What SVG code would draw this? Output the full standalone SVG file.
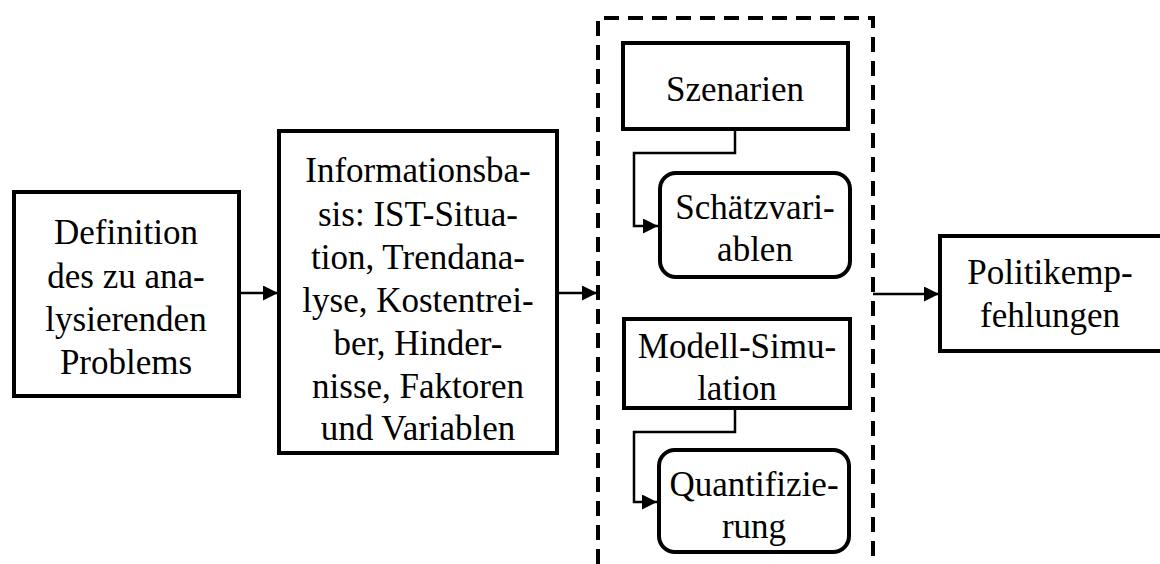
<svg xmlns="http://www.w3.org/2000/svg" width="1160" height="564" viewBox="0 0 1160 564">
<style>
.box{fill:#fff;stroke:#000;stroke-width:4}
.t{font-family:"Liberation Serif","DejaVu Serif",serif;font-size:35px;fill:#000;text-anchor:middle}
.c{fill:none;stroke:#000;stroke-width:2.5}
.d{fill:none;stroke:#000;stroke-width:4;stroke-dasharray:15 9}
</style>
<defs>
<marker id="ah2" markerWidth="15" markerHeight="15" refX="15" refY="7.5" orient="auto" markerUnits="userSpaceOnUse" viewBox="0 0 15 15">
<path d="M0,0 L15,7.5 L0,15 z" fill="#000"/>
</marker>
</defs>
<g id="group">
<path class="d" d="M598,564 V18 H873 V564"/>
</g>
<g id="n1">
<rect class="box" x="14" y="192" width="225" height="204"/>
<text class="t" x="126" y="244">Definition</text>
<text class="t" x="126" y="288">des zu ana-</text>
<text class="t" x="126" y="331">lysierenden</text>
<text class="t" x="126" y="374">Problems</text>
</g>
<g id="n2">
<rect class="box" x="279" y="131" width="278" height="322"/>
<text class="t" x="418" y="182">Informationsba-</text>
<text class="t" x="418" y="226">sis: IST-Situa-</text>
<text class="t" x="418" y="269">tion, Trendana-</text>
<text class="t" x="418" y="312">lyse, Kostentrei-</text>
<text class="t" x="418" y="355">ber, Hinder-</text>
<text class="t" x="418" y="398">nisse, Faktoren</text>
<text class="t" x="418" y="440">und Variablen</text>
</g>
<g id="n3">
<rect class="box" x="623" y="43" width="225" height="86"/>
<text class="t" x="735" y="101">Szenarien</text>
</g>
<g id="n4">
<rect class="box" x="660" y="173" width="190" height="104" rx="16"/>
<text class="t" x="755" y="219">Schätzvari-</text>
<text class="t" x="755" y="261">ablen</text>
</g>
<g id="n5">
<rect class="box" x="624" y="319" width="226" height="89"/>
<text class="t" x="737" y="358">Modell-Simu-</text>
<text class="t" x="737" y="400">lation</text>
</g>
<g id="n6">
<rect class="box" x="659" y="450" width="190" height="102" rx="16"/>
<text class="t" x="754" y="496">Quantifizie-</text>
<text class="t" x="754" y="538">rung</text>
</g>
<g id="n7">
<rect class="box" x="940" y="236" width="230" height="115"/>
<text class="t" x="1050" y="284">Politikemp-</text>
<text class="t" x="1050" y="327">fehlungen</text>
</g>
<g id="connectors">
<path class="c" d="M239,293 H278" marker-end="url(#ah2)"/>
<path class="c" d="M557,293 H597" marker-end="url(#ah2)"/>
<path class="c" d="M873,294 H939" marker-end="url(#ah2)"/>
<path class="c" d="M735,129 V153 H634 V226 H658" marker-end="url(#ah2)"/>
<path class="c" d="M735,408 V432 H634 V502 H657" marker-end="url(#ah2)"/>
</g>
</svg>
